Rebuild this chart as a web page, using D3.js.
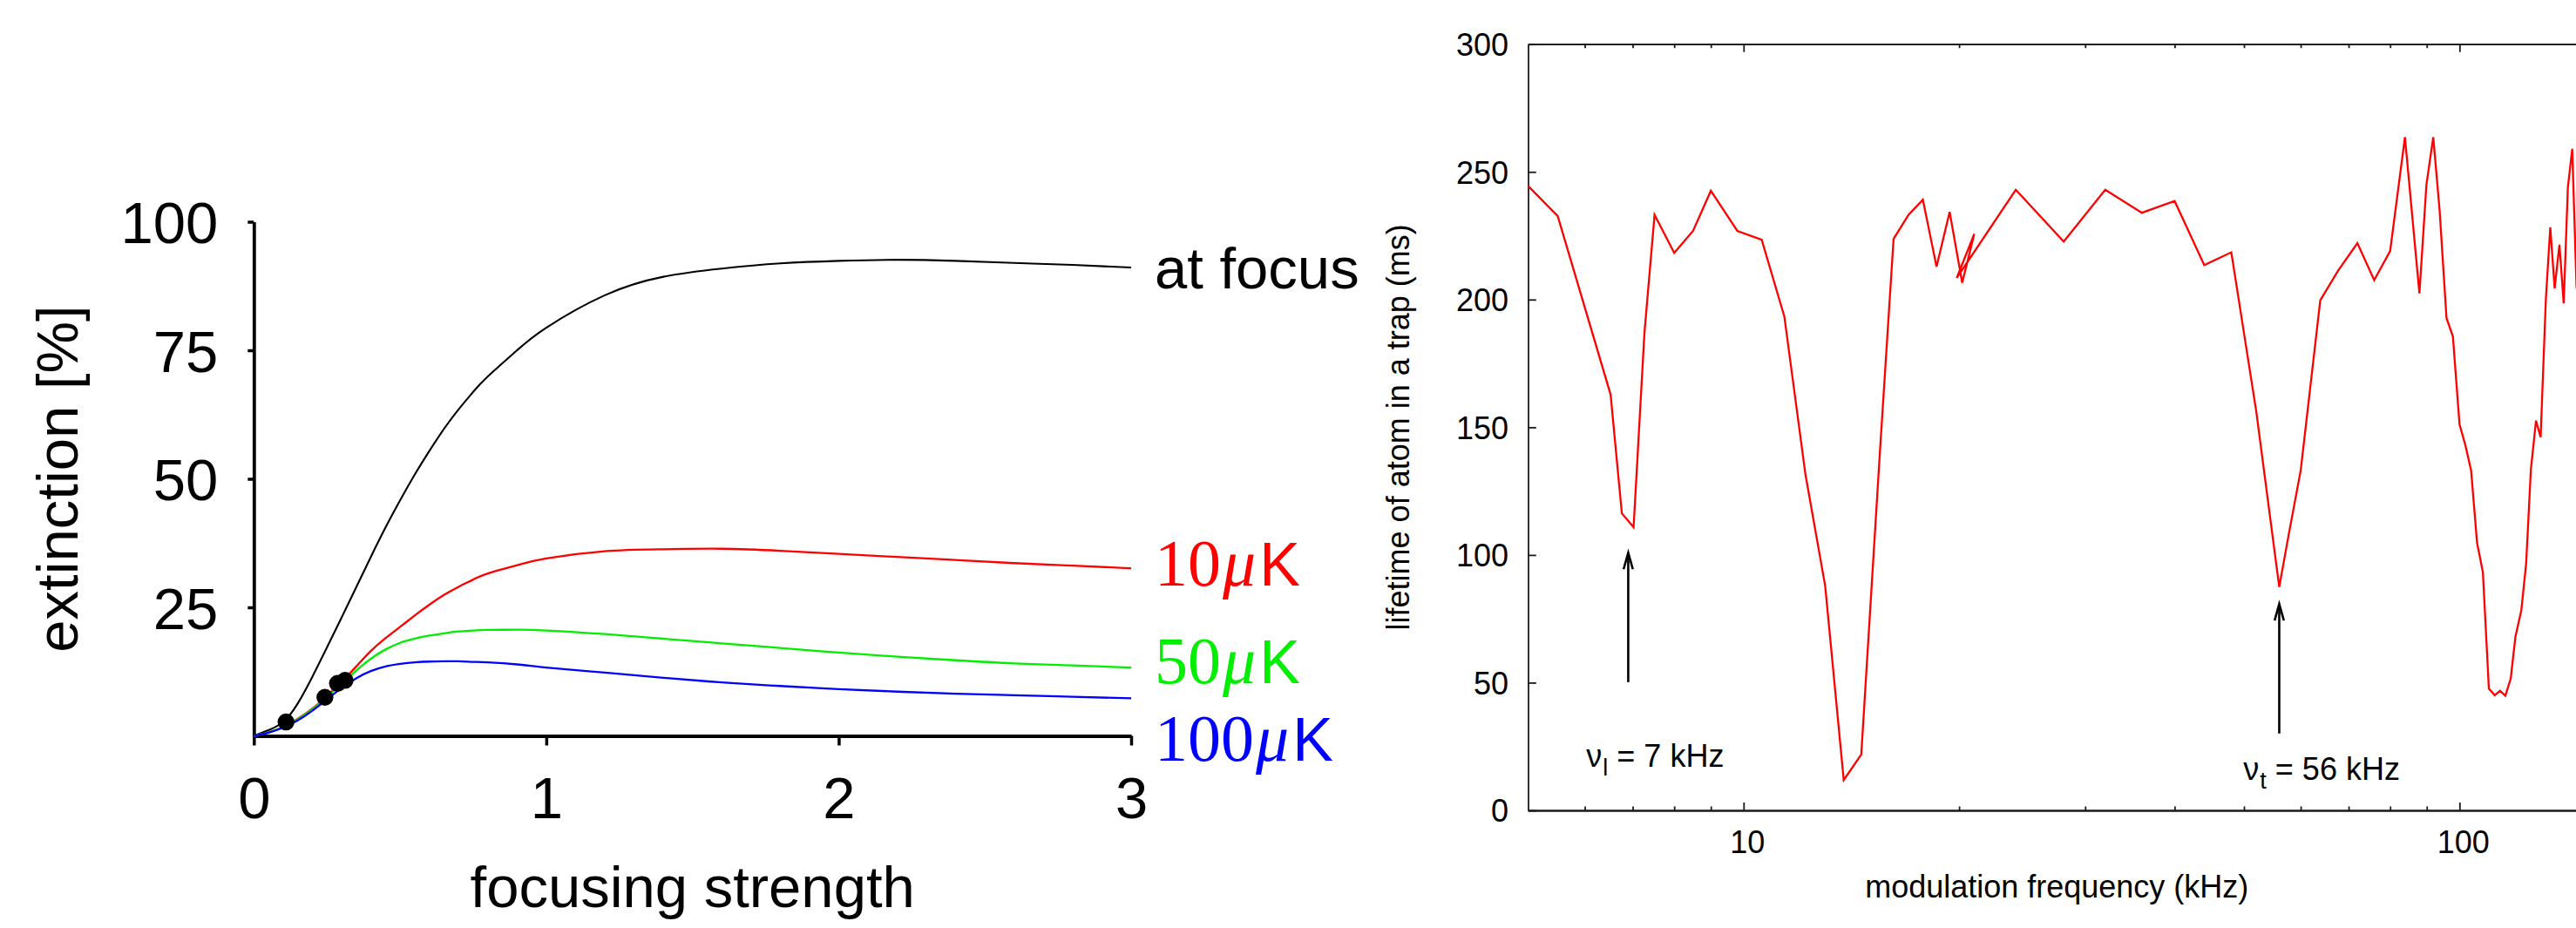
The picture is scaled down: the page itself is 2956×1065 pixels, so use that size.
<!DOCTYPE html>
<html>
<head>
<meta charset="utf-8">
<script src="https://cdn.jsdelivr.net/npm/d3@7"></script>
<style>
  html, body { margin: 0; padding: 0; background: #fff; overflow: hidden; }
  svg { display: block; }
  text { font-family: "Liberation Sans", Arial, Helvetica, sans-serif; }
</style>
</head>
<body>
<svg id="fig" width="2956" height="1065"></svg>
<script>
// ---------- Panel A: extinction vs focusing strength ----------
const focusGrid = [0, 0.025, 0.05, 0.1, 0.15, 0.2, 0.25, 0.3, 0.35, 0.4, 0.45, 0.5, 0.55, 0.6,
                   0.65, 0.7, 0.75, 0.8, 0.9, 1.0, 1.2, 1.4, 1.6, 1.8, 2.0, 2.2, 2.4, 2.6, 2.8, 3.0];
const extAtFocus = [0, 0.55, 1.1, 2.7, 6.3, 11.5, 17.2, 23.0, 28.9, 34.8, 40.5, 45.8, 50.8, 55.4,
                    59.7, 63.5, 66.9, 69.9, 75.0, 79.4, 85.7, 89.3, 90.9, 91.9, 92.4, 92.6, 92.4,
                    92.0, 91.6, 91.1];
const ext10uK = [0, 0.3, 0.7, 1.7, 3.3, 5.3, 7.8, 10.5, 13.5, 16.5, 19.0, 21.2, 23.4, 25.5,
                 27.4, 29.0, 30.4, 31.6, 33.2, 34.5, 35.9, 36.3, 36.4, 36.0, 35.4, 34.8, 34.2,
                 33.6, 33.1, 32.6];
const ext50uK = [0, 0.3, 0.7, 1.7, 3.2, 5.2, 7.6, 10.1, 12.7, 15.0, 16.8, 18.1, 18.9, 19.5,
                 19.95, 20.3, 20.5, 20.6, 20.65, 20.5, 19.8, 18.9, 18.0, 17.1, 16.2, 15.4, 14.7,
                 14.1, 13.7, 13.3];
const ext100uK = [0, 0.3, 0.6, 1.6, 3.0, 4.9, 7.1, 9.3, 11.2, 12.6, 13.5, 14.0, 14.3, 14.45,
                  14.5, 14.5, 14.4, 14.3, 13.9, 13.3, 12.3, 11.3, 10.4, 9.7, 9.1, 8.6, 8.2,
                  7.9, 7.6, 7.3];
const curveNames = ["at focus", "10", "50", "100"];
const markerFocus = [0.11, 0.243, 0.286, 0.312];
const markerExt = [2.7, 7.5, 10.2, 10.8];
const focusTicks = [0, 1, 2, 3];
const extTicks = [25, 50, 75, 100];

// ---------- Panel B: trap lifetime vs modulation frequency ----------
const modFreq = [5.0, 5.5, 6.52, 6.76, 7.02, 7.27, 7.51, 8.0, 8.5, 9.0, 9.8, 10.6, 11.4, 12.2,
                 13.0, 13.8, 14.6, 15.5, 16.2, 17.0, 17.8, 18.6, 19.4, 20.2, 21.0, 19.85, 24.0,
                 28.0, 32.0, 36.0, 40.0, 44.0, 48.0, 52.0, 56.0, 57.7, 60.0, 63.9, 67.7, 72.0,
                 76.0, 80.0, 83.9, 87.9, 89.9, 91.9, 93.8, 95.9, 97.9, 100.0, 101.9, 103.8,
                 105.8, 107.8, 109.9, 112.0, 113.9, 115.9, 117.9, 119.7, 122.0, 123.9, 125.8,
                 127.9, 129.8, 132.0, 133.9, 135.8, 137.9, 139.8, 141.7, 143.7, 145.7];
const lifetimeMs = [244.5, 232.7, 162.8, 116.3, 110.9, 187.1, 233.2, 218.3, 226.9, 242.6, 226.9,
                    223.4, 193.4, 131.6, 87.9, 11.9, 21.9, 140.0, 223.8, 233.2, 239.1, 212.9,
                    234.3, 206.6, 225.7, 208.5, 243.0, 222.7, 243.0, 234.0, 238.6, 213.5, 218.5,
                    156.4, 87.5, 107.6, 133.1, 199.7, 211.4, 222.1, 207.6, 219.0, 263.6, 202.4,
                    244.9, 263.6, 234.9, 192.8, 185.5, 151.1, 143.0, 133.1, 104.8, 93.3, 47.7,
                    45.1, 46.8, 44.9, 51.6, 68.0, 78.4, 96.7, 133.5, 152.6, 146.1, 200.0, 228.3,
                    204.4, 221.5, 198.5, 244.0, 259.0, 204.5];
const freqMajorTicks = [10, 100];
const freqMinorTicks = [6, 7, 8, 9, 20, 30, 40, 50, 60, 70, 80, 90];
const lifetimeTicks = [0, 50, 100, 150, 200, 250, 300];
const resonanceFreq = [6.9, 56];
const arrowBaseMs = [50.2, 30.1];
const arrowTipMs = [100.9, 80.8];
const resonanceSub = ["l", "t"];
const resonanceText = ["7 kHz", "56 kHz"];

// ---------- drawing ----------
const svg = d3.select("#fig");
svg.append("rect").attr("width", 2956).attr("height", 1065).attr("fill", "#fff");

// Panel A
const xA = d3.scaleLinear().domain([0, 3]).range([291.3, 1298]);
const yA = d3.scaleLinear().domain([0, 100]).range([844.5, 254.5]);
const gA = svg.append("g");
const fontA = 67;

const axA = gA.append("g").attr("transform", `translate(0,${yA(0)})`)
  .call(d3.axisBottom(xA).tickValues(focusTicks).tickFormat(d3.format("d"))
        .tickSizeInner(11).tickSizeOuter(0).tickPadding(36));
const ayA = gA.append("g").attr("transform", `translate(${xA(0)},0)`)
  .call(d3.axisLeft(yA).tickValues(extTicks).tickFormat(d3.format("d"))
        .tickSizeInner(7).tickSizeOuter(0).tickPadding(34));
[axA, ayA].forEach(a => {
  a.select(".domain").attr("stroke", "#000").attr("stroke-width", 3.8);
  a.selectAll(".tick line").attr("stroke", "#000").attr("stroke-width", 3.5);
  a.selectAll(".tick text").attr("font-size", fontA).attr("fill", "#000")
    .style("font-family", '"Liberation Sans", Arial, sans-serif');
});
ayA.selectAll(".tick text").attr("dy", "0.36em");

const lineA = d3.line().x(d => xA(d[0])).y(d => yA(d[1])).curve(d3.curveNatural);
const seriesA = [
  { vals: extAtFocus, color: "#000000", w: 2.1 },
  { vals: ext10uK, color: "#ff0000", w: 2.3 },
  { vals: ext50uK, color: "#00ee00", w: 2.3 },
  { vals: ext100uK, color: "#0000ff", w: 2.3 }
];
seriesA.forEach(s => {
  gA.append("path")
    .datum(focusGrid.map((f, i) => [f, s.vals[i]]))
    .attr("fill", "none").attr("stroke", s.color).attr("stroke-width", s.w)
    .attr("stroke-linejoin", "round").attr("d", lineA);
});
gA.selectAll("circle.mk").data(markerFocus.map((f, i) => [f, markerExt[i]]))
  .enter().append("circle").attr("class", "mk")
  .attr("cx", d => xA(d[0])).attr("cy", d => yA(d[1])).attr("r", 9.7).attr("fill", "#000");

// curve labels to the right of x = 3
const labelX = xA(3) + 27;
const labelBaseline = [87.0, 29.3, 10.2, -4.85];
const labelColors = ["#000000", "#ff0000", "#00ee00", "#0000ff"];
curveNames.forEach((name, i) => {
  const t = gA.append("text").attr("x", labelX).attr("y", yA(labelBaseline[i]))
    .attr("fill", labelColors[i]);
  if (i === 0) {
    t.attr("font-size", fontA).text(name);
  } else {
    t.append("tspan").attr("font-family", '"Liberation Serif", "DejaVu Serif", serif')
      .attr("font-size", 76).text(name);
    t.append("tspan").attr("font-family", '"Liberation Serif", "DejaVu Serif", serif')
      .attr("font-style", "italic").attr("font-size", 76).attr("dx", 2).text("\u03bc");
    t.append("tspan").attr("font-size", 70).attr("dx", 4).text("K");
  }
});

gA.append("text").attr("x", (xA(0) + xA(3)) / 2).attr("y", 1041)
  .attr("text-anchor", "middle").attr("font-size", fontA).text("focusing strength");
gA.append("text").attr("transform", `translate(89,${(yA(0) + yA(100)) / 2}) rotate(-90)`)
  .attr("text-anchor", "middle").attr("font-size", fontA).text("extinction [%]");

// Panel B
const xB = d3.scaleLog().domain([5, 150]).range([1753.5, 2967]);
const yB = d3.scaleLinear().domain([0, 300]).range([930, 50.7]);
const gB = svg.append("g");
const fontB = 36;
const axisColor = "#1a1a1a";

function styleAxis(a) {
  a.select(".domain").attr("stroke", axisColor).attr("stroke-width", 1.8);
  a.selectAll(".tick line").attr("stroke", axisColor).attr("stroke-width", 1.8);
  a.selectAll(".tick text").attr("font-size", fontB).attr("fill", "#000")
    .style("font-family", '"Liberation Sans", Arial, sans-serif');
}
// minor ticks first, major ticks on top
[["bottom", yB(0)], ["top", yB(300)]].forEach(([side, pos]) => {
  const gen = side === "bottom" ? d3.axisBottom(xB) : d3.axisTop(xB);
  const mi = gB.append("g").attr("transform", `translate(0,${pos})`)
    .call(gen.tickValues(freqMinorTicks).tickFormat("").tickSizeInner(-4.5).tickSizeOuter(0));
  styleAxis(mi);
  const gen2 = side === "bottom" ? d3.axisBottom(xB) : d3.axisTop(xB);
  const ma = gB.append("g").attr("transform", `translate(0,${pos})`)
    .call(gen2.tickValues(freqMajorTicks)
      .tickFormat(side === "bottom" ? d3.format("d") : "")
      .tickSizeInner(-9).tickSizeOuter(0).tickPadding(23.4));
  styleAxis(ma);
  ma.selectAll(".tick text").attr("dx", 4);
});
const ayB = gB.append("g").attr("transform", `translate(${xB(5)},0)`)
  .call(d3.axisLeft(yB).tickValues(lifetimeTicks).tickFormat(d3.format("d"))
        .tickSizeInner(-9.3).tickSizeOuter(0).tickPadding(22.5));
styleAxis(ayB);
ayB.selectAll(".tick text").attr("dy", "0.36em");
const ayB2 = gB.append("g").attr("transform", `translate(${xB(150)},0)`)
  .call(d3.axisRight(yB).tickValues(lifetimeTicks).tickFormat("")
        .tickSizeInner(-9.3).tickSizeOuter(0));
styleAxis(ayB2);

const lineB = d3.line().x(d => xB(d[0])).y(d => yB(d[1]));
gB.append("path")
  .datum(modFreq.map((f, i) => [f, lifetimeMs[i]]))
  .attr("fill", "none").attr("stroke", "#ff0000").attr("stroke-width", 2.3)
  .attr("stroke-linejoin", "miter").attr("d", lineB);

// resonance arrows and labels
const labelPosFreq = [6.03, 49.9];
const labelPosMs = [16.9, 12.1];
resonanceFreq.forEach((f, i) => {
  const x = xB(f), y0 = yB(arrowBaseMs[i]), y1 = yB(arrowTipMs[i]);
  gB.append("line").attr("x1", x).attr("x2", x).attr("y1", y0).attr("y2", y1 + 3)
    .attr("stroke", "#000").attr("stroke-width", 2.6);
  gB.append("path")
    .attr("d", `M${x - 5.3},${y1 + 19} L${x},${y1} L${x + 5.3},${y1 + 19}`)
    .attr("fill", "none").attr("stroke", "#000").attr("stroke-width", 2.6)
    .attr("stroke-linejoin", "miter");
  const t = gB.append("text").attr("x", xB(labelPosFreq[i])).attr("y", yB(labelPosMs[i]))
    .attr("font-size", fontB).attr("fill", "#000");
  t.append("tspan").text("\u03bd");
  t.append("tspan").attr("font-size", 27).attr("dy", 10).attr("dx", 1).text(resonanceSub[i]);
  t.append("tspan").attr("dy", -10).text(" = " + resonanceText[i]);
});

gB.append("text").attr("x", (xB(5) + xB(150)) / 2).attr("y", 1030)
  .attr("text-anchor", "middle").attr("font-size", fontB).text("modulation frequency (kHz)");
gB.append("text").attr("transform", `translate(1617,${(yB(0) + yB(300)) / 2}) rotate(-90)`)
  .attr("text-anchor", "middle").attr("font-size", fontB).text("lifetime of atom in a trap (ms)");
</script>
</body>
</html>
